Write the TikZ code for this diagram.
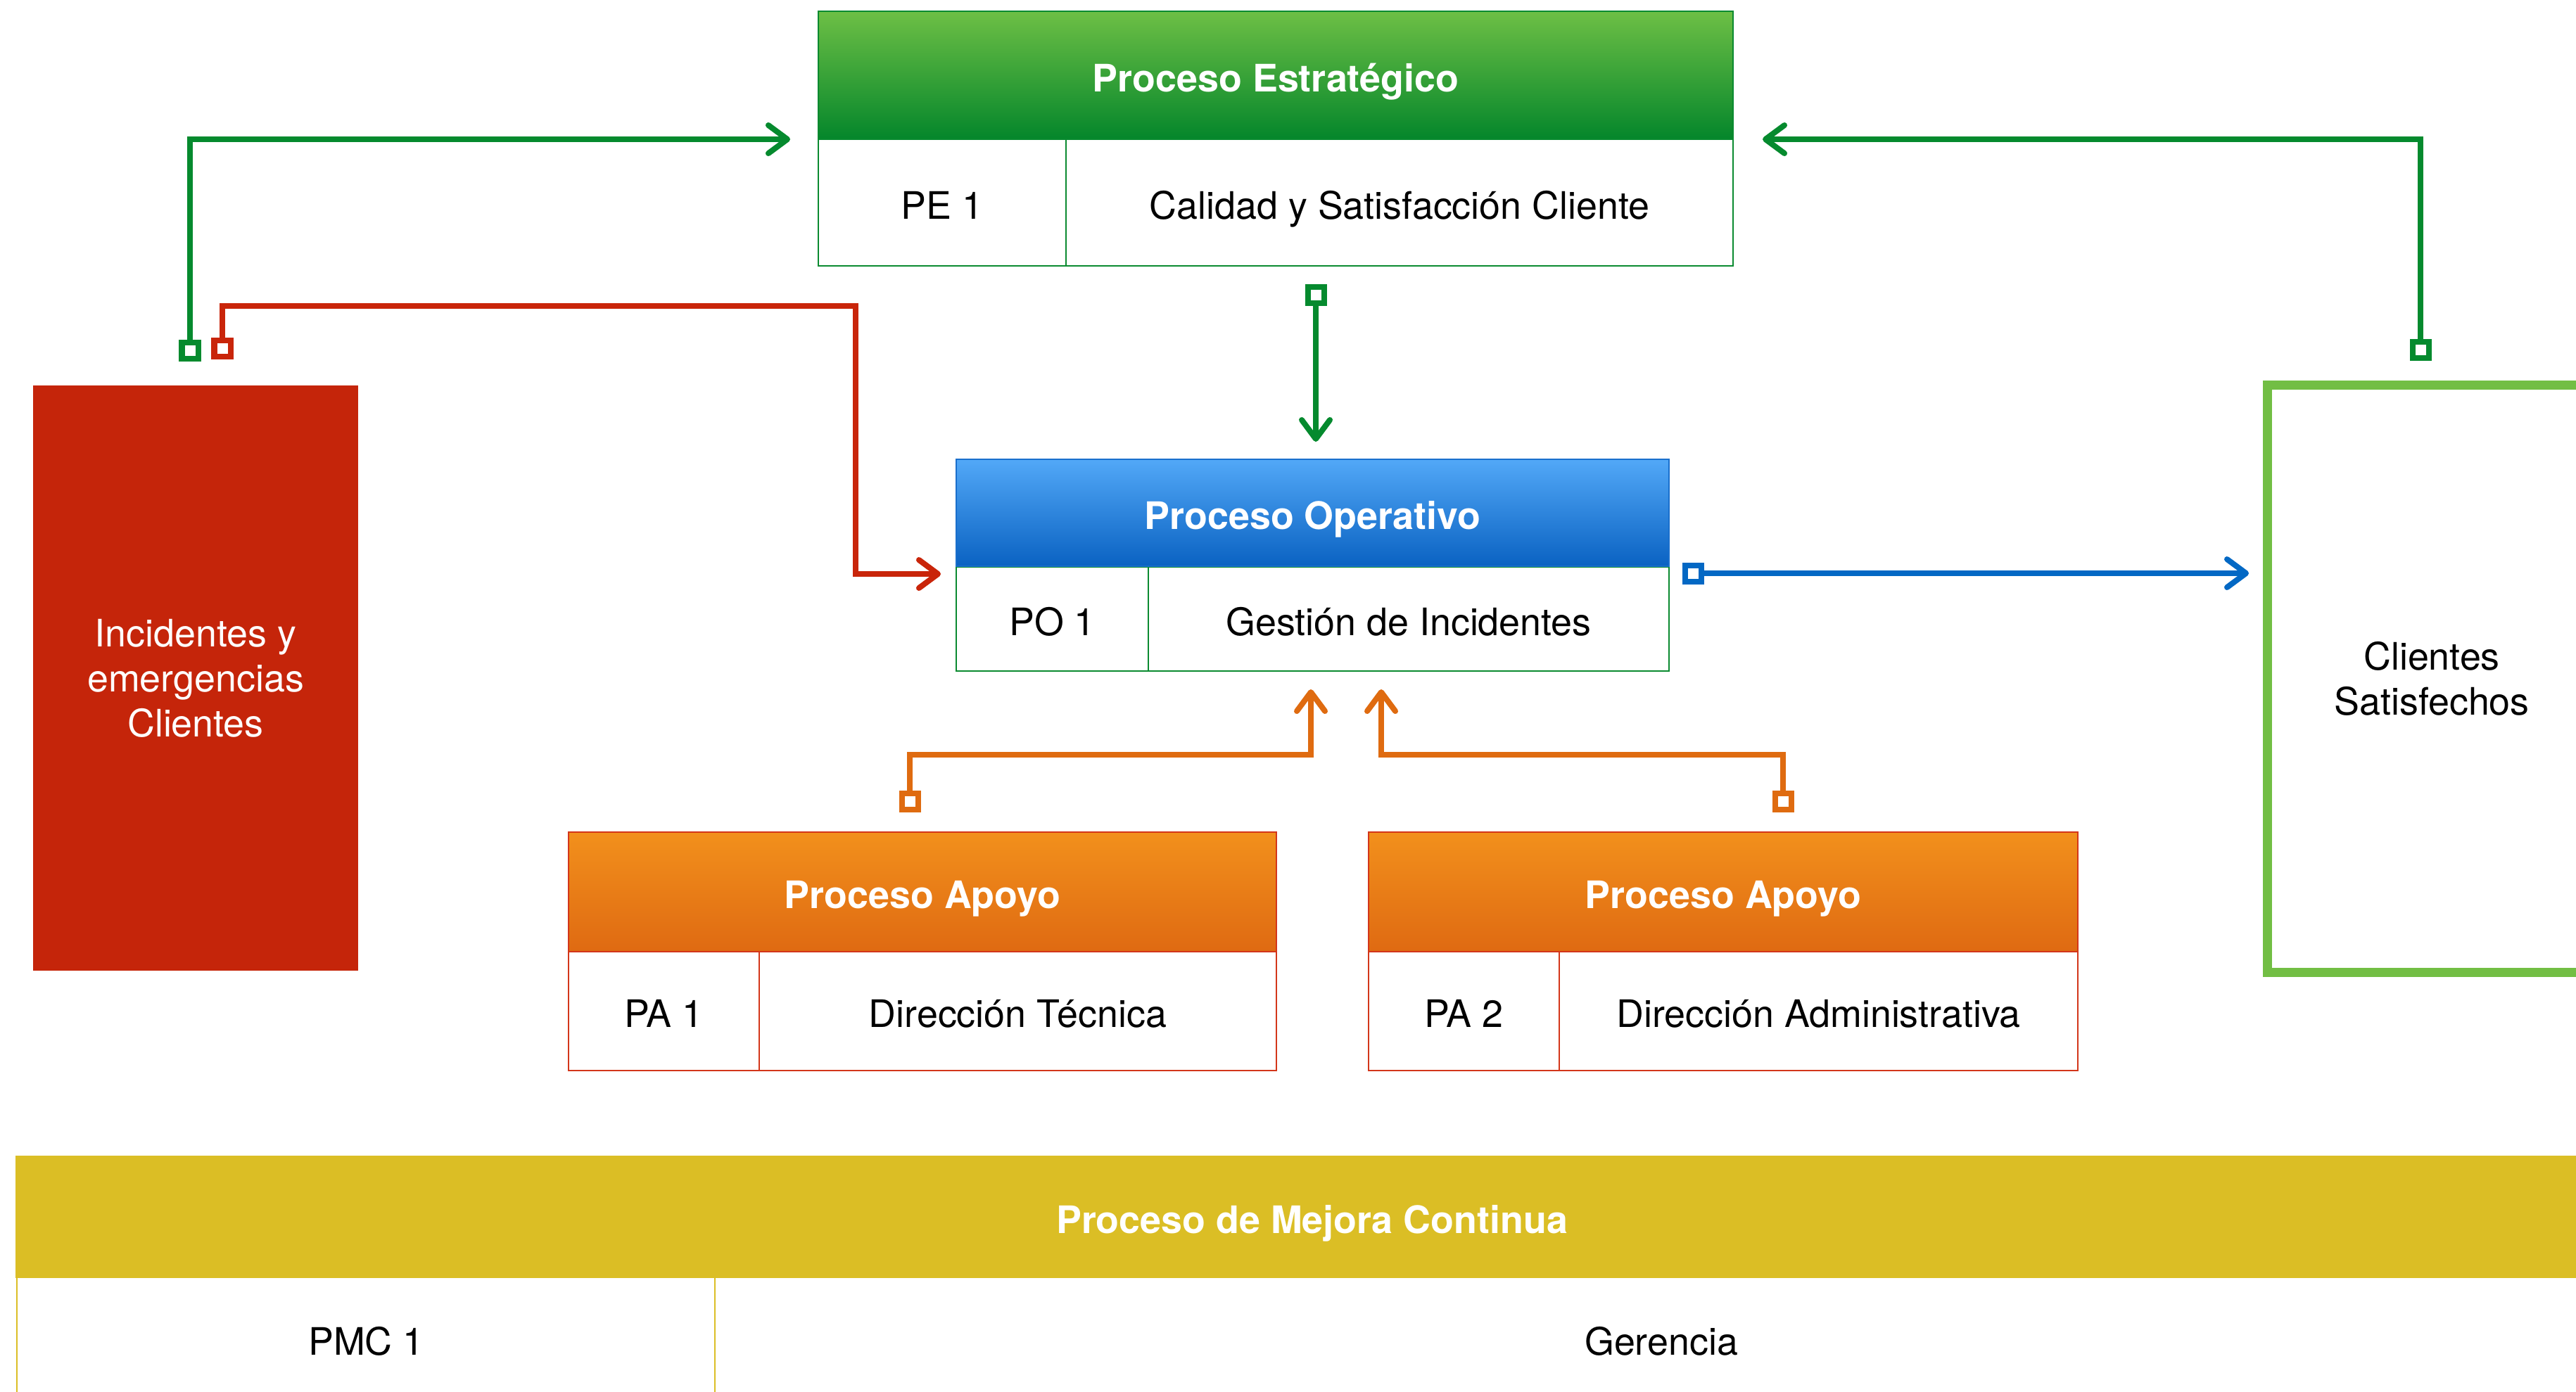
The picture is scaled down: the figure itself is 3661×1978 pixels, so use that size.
\documentclass[tikz,border=0pt]{standalone}
\usepackage{fontspec}
\setmainfont{TeX Gyre Heros}
\usetikzlibrary{arrows.meta}
\definecolor{pegreen}{HTML}{0A8A30}
\definecolor{petop}{HTML}{6DBF45}
\definecolor{pebot}{HTML}{04862B}
\definecolor{potop}{HTML}{52A8F7}
\definecolor{pobot}{HTML}{0A62C2}
\definecolor{poblue}{HTML}{1A6FCC}
\definecolor{patop}{HTML}{F2901C}
\definecolor{pabot}{HTML}{DF6A12}
\definecolor{pared}{HTML}{D3361A}
\definecolor{pmcyel}{HTML}{DBBE25}
\definecolor{incred}{HTML}{C5250A}
\definecolor{lgreen}{HTML}{058A2E}
\definecolor{lred}{HTML}{C9250A}
\definecolor{lblue}{HTML}{0368C4}
\definecolor{lorange}{HTML}{DF6B10}
\definecolor{csgreen}{HTML}{72BE44}
\tikzset{
  txt/.style={font=\fontsize{15.3}{18.2}\selectfont},
  hdr/.style={txt, font=\fontsize{15.3}{18.2}\selectfont\bfseries, text=white, line width=0.02cm, inner sep=0pt, outer sep=0pt, text height=0.46cm, text depth=0cm},
  cell/.style={txt, text=black, fill=white, line width=0.02cm, inner sep=0pt, outer sep=0pt, text height=0.46cm, text depth=0cm},
  sq/.style={draw=#1, fill=white, line width=0.08cm, minimum size=0.23cm, inner sep=0pt, outer sep=0pt},
  conn/.style={draw=#1, line width=0.08cm, -{Straight Barb[round,length=0.27cm,width=0.40cm]}},
}
\begin{document}
\begin{tikzpicture}[x=0.01cm,y=-0.01cm]
\useasboundingbox (0,0) rectangle (3661,1978);
\clip (0,0) rectangle (3661,1978);
\fill[white] (0,0) rectangle (3661,1978);

% Proceso Estrategico
\node[hdr, draw=pegreen, top color=petop, bottom color=pebot, minimum width=13cm, minimum height=1.82cm] (peH) at (1813,107) {Proceso Estratégico};
\node[cell, draw=pegreen, minimum width=3.52cm, minimum height=1.80cm] (peL) at (1339,288) {PE 1};
\node[cell, draw=pegreen, minimum width=9.48cm, minimum height=1.80cm] (peR) at (1989,288) {Calidad y Satisfacción Cliente};

% Proceso Operativo
\node[cell, draw=pegreen, minimum width=2.73cm, minimum height=1.48cm] (poL) at (1495.5,880) {PO 1};
\node[cell, draw=pegreen, minimum width=7.40cm, minimum height=1.48cm] (poR) at (2002,880) {Gestión de Incidentes};
\node[hdr, draw=poblue, top color=potop, bottom color=pobot, minimum width=10.13cm, minimum height=1.52cm] (poH) at (1865.5,729) {Proceso Operativo};

% Proceso Apoyo 1
\node[hdr, draw=pared, top color=patop, bottom color=pabot, minimum width=10.06cm, minimum height=1.70cm] (pa1H) at (1311,1268) {Proceso Apoyo};
\node[cell, draw=pared, minimum width=2.71cm, minimum height=1.69cm] (pa1L) at (943.5,1437.5) {PA 1};
\node[cell, draw=pared, minimum width=7.35cm, minimum height=1.69cm] (pa1R) at (1446.5,1437.5) {Dirección Técnica};

% Proceso Apoyo 2
\node[hdr, draw=pared, top color=patop, bottom color=pabot, minimum width=10.08cm, minimum height=1.70cm] (pa2H) at (2449,1268) {Proceso Apoyo};
\node[cell, draw=pared, minimum width=2.71cm, minimum height=1.69cm] (pa2L) at (2080.5,1437.5) {PA 2};
\node[cell, draw=pared, minimum width=7.37cm, minimum height=1.69cm] (pa2R) at (2584.5,1437.5) {Dirección Administrativa};

% Incidentes
\node[txt, fill=incred, text=white, align=center, minimum width=4.62cm, minimum height=8.32cm, inner sep=0pt] (inc) at (278,964) {Incidentes y\\emergencias\\Clientes};

% Clientes Satisfechos
\node[txt, draw=csgreen, line width=0.13cm, align=center, minimum width=4.67cm, minimum height=8.34cm, inner sep=0pt] (cs) at (3456,965) {Clientes\\Satisfechos};

% Mejora continua
\node[hdr, draw=pmcyel, fill=pmcyel, minimum width=36.81cm, minimum height=1.72cm] (pmcH) at (1864.5,1730) {Proceso de Mejora Continua};
\node[cell, draw=pmcyel, minimum width=9.93cm, minimum height=1.74cm] (pmcL) at (520.5,1903) {PMC 1};
\node[cell, draw=pmcyel, minimum width=26.88cm, minimum height=1.74cm] (pmcR) at (2361,1903) {Gerencia};

% connector end points
\coordinate (tG1) at (1123,198);
\coordinate (rc1) at (1216,435);
\coordinate (tR) at (1337,816);
\coordinate (tG2) at (1870,628);
\coordinate (tG3) at (2505,198);
\coordinate (tB) at (3196,815);
\coordinate (oc1) at (1863,1073);
\coordinate (tO1) at (1863,980);
\coordinate (oc2) at (1963,1073);
\coordinate (tO2) at (1963,980);

% squares
\node[sq=lgreen] (sqG1) at (270,498) {};
\node[sq=lred] (sqR) at (316,495) {};
\node[sq=lgreen] (sqG2) at (1870,419) {};
\node[sq=lgreen] (sqG3) at (3440,497) {};
\node[sq=lblue] (sqB) at (2406,815) {};
\node[sq=lorange] (sqO1) at (1293,1139) {};
\node[sq=lorange] (sqO2) at (2534,1139) {};

% connectors
\draw[conn=lgreen] (sqG1.north) |- (tG1);
\draw[conn=lred] (sqR.north) |- (rc1) |- (tR);
\draw[conn=lgreen] (sqG2.south) -- (tG2);
\draw[conn=lgreen] (sqG3.north) |- (tG3);
\draw[conn=lblue] (sqB.east) -- (tB);
\draw[conn=lorange] (sqO1.north) |- (oc1) -- (tO1);
\draw[conn=lorange] (sqO2.north) |- (oc2) -- (tO2);
\end{tikzpicture}
\end{document}
